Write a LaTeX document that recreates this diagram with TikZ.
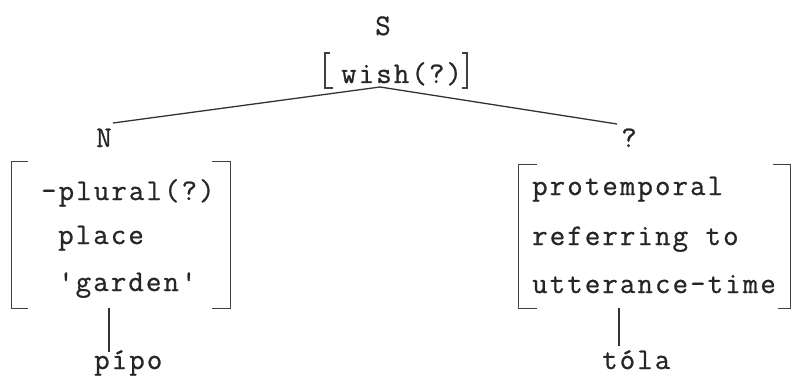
\documentclass[tikz,border=0pt]{standalone}
\usepackage{fontspec}
\newfontfamily\tw{Latin Modern Mono}[LetterSpace=7, FakeBold=0.8]
\tikzset{
  lbl/.style={inner sep=0pt, font=\tw\fontsize{30}{36}\selectfont, text=black!85},
  ln/.style={line width=1.3pt, draw=black!80},
  brk/.style={line width=1.2pt, draw=black!75}
}
\begin{document}
\begin{tikzpicture}[x=1pt,y=-1pt]
\useasboundingbox (0,0) rectangle (792,377);
% top
\node[lbl, anchor=base] (S) at (383,35) {S};
\node[lbl, anchor=base west] (wish) at (341,83) {wish(?)};
\draw[brk] (330,53) -- (325,53) -- (325,88) -- (333,88);
\draw[brk] (462,53) -- (467,53) -- (467,88) -- (462,88);
\coordinate (apex) at (380,87);
% daughters
\node[lbl, anchor=base] (N) at (104,147) {N};
\node[lbl, anchor=base] (Q) at (629,147) {?};
\coordinate (nend) at (113,123);
\coordinate (qend) at (617,124);
\draw[ln] (apex) -- (nend);
\draw[ln] (apex) -- (qend);
% left feature box
\node[minimum width=218pt, minimum height=146pt, inner sep=0pt] (lbox) at (121,235) {};
\draw[brk] ([xshift=16pt]lbox.north west) -- (lbox.north west) -- (lbox.south west) -- ([xshift=16pt]lbox.south west);
\draw[brk] ([xshift=-18pt]lbox.north east) -- (lbox.north east) -- (lbox.south east) -- ([xshift=-18pt]lbox.south east);
\node[lbl, anchor=base west] (l1) at (41,200) {-plural(?)};
\node[lbl, anchor=base west] (l2) at (58,244) {place};
\node[lbl, anchor=base west] (l3) at (58,291) {'garden'};
% right feature box
\node[minimum width=271pt, minimum height=143pt, inner sep=0pt] (rbox) at (654.5,236.5) {};
\draw[brk] ([xshift=18pt]rbox.north west) -- (rbox.north west) -- (rbox.south west) -- ([xshift=18pt]rbox.south west);
\draw[brk] ([xshift=-17pt]rbox.north east) -- (rbox.north east) -- (rbox.south east) -- ([xshift=-12pt]rbox.south east);
\node[lbl, anchor=base west] (r1) at (532,195) {protemporal};
\node[lbl, anchor=base west] (r2) at (532,245) {referring to};
\node[lbl, anchor=base west] (r3) at (532,293) {utterance-time};
% words
\node[lbl, anchor=base west] (pipo) at (94,369) {pípo};
\node[lbl, anchor=base west] (tola) at (602,369) {tóla};
\draw[ln] ([xshift=-12pt]lbox.south) -- ([xshift=-12pt]lbox.south |- 0,352) coordinate (pend);
\draw[ln] ([xshift=-35.5pt]rbox.south) -- ([xshift=-35.5pt]rbox.south |- 0,346) coordinate (tend);
\end{tikzpicture}
\end{document}
